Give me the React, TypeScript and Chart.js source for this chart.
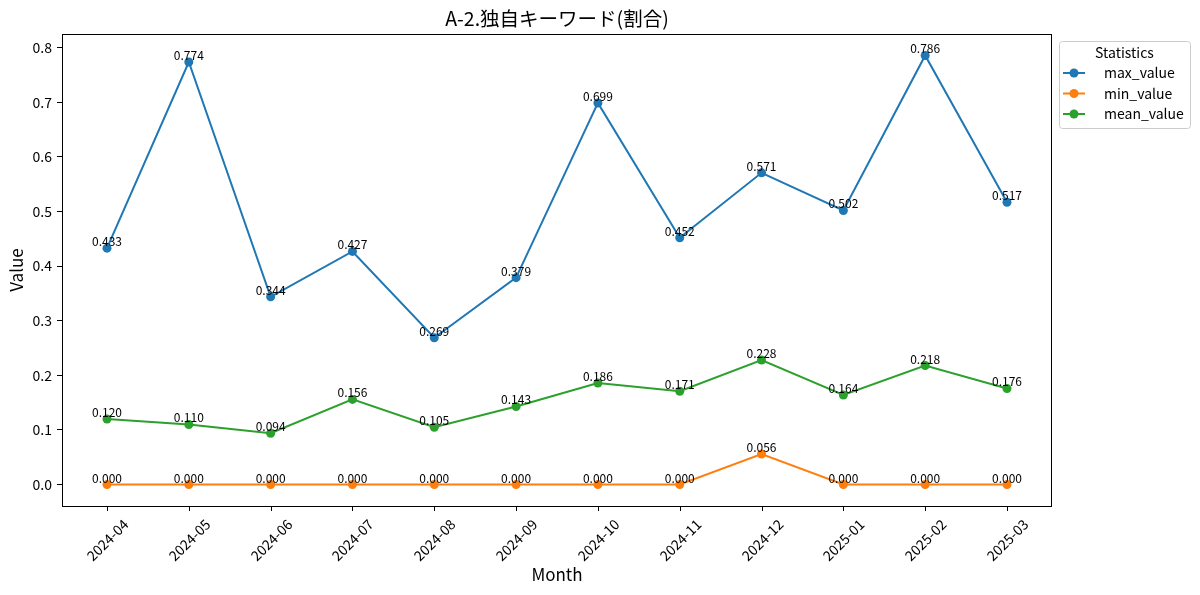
import React, { useEffect, useRef } from "react";
import { Chart, registerables } from "chart.js";

Chart.register(...registerables);

const months = [
  "2024-04", "2024-05", "2024-06", "2024-07", "2024-08", "2024-09",
  "2024-10", "2024-11", "2024-12", "2025-01", "2025-02", "2025-03",
];
const maxValues = [0.433, 0.774, 0.344, 0.427, 0.269, 0.379, 0.699, 0.452, 0.571, 0.502, 0.786, 0.517];
const minValues = [0, 0, 0, 0, 0, 0, 0, 0, 0.056, 0, 0, 0];
const meanValues = [0.12, 0.11, 0.094, 0.156, 0.105, 0.143, 0.186, 0.171, 0.228, 0.164, 0.218, 0.176];
const yTicks = [0, 0.1, 0.2, 0.3, 0.4, 0.5, 0.6, 0.7, 0.8];

const FONT = "'Noto Sans CJK JP', 'Noto Sans', sans-serif";
const series = [
  { label: "max_value", color: "#1f77b4", values: maxValues },
  { label: "min_value", color: "#ff7f0e", values: minValues },
  { label: "mean_value", color: "#2ca02c", values: meanValues },
];

// frame, x ticks, titles, value labels and legend, drawn matplotlib-style
const decorPlugin = {
  id: "decor",
  afterDraw(chart: any) {
    const { ctx, chartArea: a } = chart;
    const xs = chart.scales.x;
    ctx.save();

    // value labels
    ctx.fillStyle = "#000";
    ctx.font = `12px ${FONT}`;
    ctx.textAlign = "center";
    ctx.textBaseline = "alphabetic";
    chart.data.datasets.forEach((ds: any, di: number) => {
      const meta = chart.getDatasetMeta(di);
      meta.data.forEach((pt: any, i: number) => {
        ctx.fillText(ds.data[i].y.toFixed(3), pt.x, pt.y - 2);
      });
    });

    // frame
    ctx.strokeStyle = "#000";
    ctx.lineWidth = 1;
    ctx.strokeRect(a.left + 0.5, a.top + 0.5, a.right - a.left - 1, a.bottom - a.top);

    // x ticks + rotated labels
    ctx.font = `14px ${FONT}`;
    ctx.textBaseline = "middle";
    months.forEach((m, i) => {
      const x = Math.round(xs.getPixelForValue(i)) + 0.5;
      ctx.beginPath();
      ctx.moveTo(x, a.bottom);
      ctx.lineTo(x, a.bottom + 5);
      ctx.stroke();
      ctx.save();
      ctx.translate(x, a.bottom + 34);
      ctx.rotate(-Math.PI / 4);
      ctx.fillText(m, 0, 0);
      ctx.restore();
    });

    // titles
    const cx = (a.left + a.right) / 2;
    ctx.font = `19.5px ${FONT}`;
    ctx.fillText("A-2.独自キーワード(割合)", cx, 19);
    ctx.font = `17px ${FONT}`;
    ctx.fillText("Month", cx, 575);
    ctx.save();
    ctx.translate(17, (a.top + a.bottom) / 2);
    ctx.rotate(-Math.PI / 2);
    ctx.fillText("Value", 0, 0);
    ctx.restore();

    // legend
    const lx = 1059, ly = 41, lw = 131, lh = 87;
    ctx.fillStyle = "rgba(255,255,255,0.8)";
    ctx.strokeStyle = "#cccccc";
    ctx.beginPath();
    ctx.roundRect(lx + 0.5, ly + 0.5, lw, lh, 3);
    ctx.fill();
    ctx.stroke();
    ctx.fillStyle = "#000";
    ctx.font = `14px ${FONT}`;
    ctx.fillText("Statistics", lx + lw / 2, 53);
    ctx.textAlign = "left";
    series.forEach((s, i) => {
      const y = 73 + i * 20.5;
      ctx.strokeStyle = s.color;
      ctx.lineWidth = 2;
      ctx.beginPath();
      ctx.moveTo(1063, y);
      ctx.lineTo(1085, y);
      ctx.stroke();
      ctx.fillStyle = s.color;
      ctx.beginPath();
      ctx.arc(1074, y, 4.5, 0, Math.PI * 2);
      ctx.fill();
      ctx.fillStyle = "#000";
      ctx.fillText(s.label, 1104, y);
    });
    ctx.restore();
  },
};

export default function App() {
  const canvasRef = useRef<HTMLCanvasElement | null>(null);
  const chartRef = useRef<Chart | null>(null);

  useEffect(() => {
    if (!canvasRef.current) return;
    const ctx = canvasRef.current.getContext("2d");
    if (!ctx) return;
    if (chartRef.current) chartRef.current.destroy();

    chartRef.current = new Chart(ctx, {
      type: "line",
      data: {
        datasets: series.map((s, i) => ({
          label: s.label,
          data: s.values.map((v, j) => ({ x: j, y: v })),
          borderColor: s.color,
          backgroundColor: s.color,
          borderWidth: 2,
          pointRadius: 4.5,
          pointBorderWidth: 0,
          order: series.length - i,
        })),
      },
      options: {
        animation: false,
        responsive: false,
        devicePixelRatio: 1,
        layout: { padding: { left: 0, top: 34, right: 148, bottom: 0 } },
        plugins: {
          legend: { display: false },
          title: { display: false },
          tooltip: { enabled: false },
        },
        scales: {
          x: {
            type: "linear",
            min: -0.55,
            max: 11.55,
            grid: { display: false },
            border: { display: false },
            ticks: { display: false },
            afterFit: (s: any) => {
              s.height = 89;
            },
          },
          y: {
            min: -0.0393,
            max: 0.8253,
            afterBuildTicks: (s: any) => {
              s.ticks = yTicks.map((v) => ({ value: v }));
            },
            afterFit: (s: any) => {
              s.width = 62;
            },
            border: { display: false },
            grid: {
              drawOnChartArea: false,
              drawTicks: true,
              tickLength: 5,
              color: "#000",
            },
            ticks: {
              color: "#000",
              padding: 5,
              font: { family: FONT, size: 14 },
              callback: (v: any) => Number(v).toFixed(1),
            },
          },
        },
      },
      plugins: [decorPlugin],
    });

    return () => {
      chartRef.current?.destroy();
    };
  }, []);

  return (
    <div style={{ position: "fixed", left: 0, top: 0, width: 1200, height: 595, background: "#fff" }}>
      <canvas ref={canvasRef} width={1200} height={595}></canvas>
    </div>
  );
}
